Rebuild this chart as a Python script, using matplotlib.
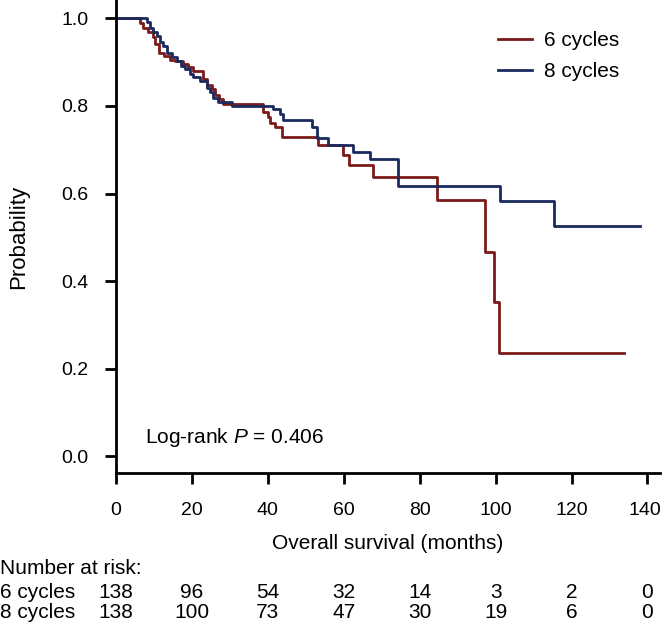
import matplotlib
matplotlib.use("Agg")
import matplotlib.pyplot as plt
import matplotlib.transforms as mtransforms

plt.rcParams['font.family'] = ['Liberation Sans', 'DejaVu Sans']
plt.rcParams['mathtext.fontset'] = 'custom'
plt.rcParams['mathtext.rm'] = 'Liberation Sans'
plt.rcParams['mathtext.it'] = 'Liberation Sans:italic'

# Kaplan-Meier steps (months, survival after the step)
red_t = [0, 6.3, 7.1, 8.4, 9.8, 10.3, 11.3, 12.7, 14.2, 15.6, 17.7, 19.0, 20.3,
         22.9, 24.0, 25.3, 26.1, 27.2, 28.2, 38.8, 40.0, 40.6, 41.9, 43.8, 53.3,
         59.8, 61.4, 67.8, 84.6, 97.3, 99.7, 101.0, 133.7]
red_s = [1.0, 0.989, 0.979, 0.968, 0.957, 0.941, 0.922, 0.913, 0.906, 0.902,
         0.895, 0.888, 0.879, 0.861, 0.849, 0.838, 0.826, 0.815, 0.805, 0.786,
         0.775, 0.762, 0.751, 0.730, 0.712, 0.689, 0.666, 0.637, 0.586, 0.467,
         0.353, 0.237, 0.237]

blue_t = [0, 8.2, 9.0, 9.8, 10.8, 11.6, 12.4, 13.4, 14.8, 16.1, 17.1, 18.2, 19.5,
          20.3, 22.1, 24.0, 24.8, 25.6, 26.9, 30.6, 41.4, 43.2, 44.0, 51.7, 53.0,
          55.9, 62.5, 67.0, 74.2, 101.2, 115.5, 137.9]
blue_s = [1.0, 0.991, 0.979, 0.970, 0.959, 0.947, 0.936, 0.922, 0.911, 0.902,
          0.891, 0.884, 0.873, 0.866, 0.856, 0.842, 0.831, 0.819, 0.810, 0.801,
          0.792, 0.781, 0.769, 0.753, 0.726, 0.712, 0.696, 0.680, 0.618, 0.584,
          0.527, 0.527]

risk_times = [0, 20, 40, 60, 80, 100, 120, 140]
risk_6 = [138, 96, 54, 32, 14, 3, 2, 0]
risk_8 = [138, 100, 73, 47, 30, 19, 6, 0]

RED = '#7a1a1a'
BLUE = '#1b2a5e'
FS = 14
FS2 = 15

fig = plt.figure(figsize=(6.62, 6.28), dpi=100)
ax = fig.add_axes([0.1752, 0.2468, 0.8218, 0.7532])

ax.step(red_t, red_s, where='post', color=RED, lw=2.0, label='6 cycles')
ax.step(blue_t, blue_s, where='post', color=BLUE, lw=2.0, label='8 cycles')

ax.set_xlim(0, 143.3)
ax.set_ylim(-0.038, 1.042)
ax.set_xticks(risk_times)
# last label is drawn by hand below so it can sit flush with the edge
ax.set_xticklabels([str(t) for t in risk_times[:-1]] + [''])
ax.set_yticks([0, 0.2, 0.4, 0.6, 0.8, 1.0])
ax.set_yticklabels(['0.0', '0.2', '0.4', '0.6', '0.8', '1.0'])

for s in ['top', 'right']:
    ax.spines[s].set_visible(False)
for s in ['left', 'bottom']:
    ax.spines[s].set_linewidth(2.0)
ax.tick_params(axis='both', direction='out', length=8, width=2.0, labelsize=FS)
ax.tick_params(axis='x', pad=13)
ax.tick_params(axis='y', pad=12)

trans, va, ha = ax.get_xaxis_text1_transform(8 + 13)
ax.annotate(str(risk_times[-1]), xy=(risk_times[-1], 0), xycoords=trans,
            xytext=(10, 0), textcoords='offset points',
            fontsize=FS, va=va, ha='right', annotation_clip=False)

ax.set_xlabel('Overall survival (months)', fontsize=FS2, labelpad=11)
ax.set_ylabel('Probability', fontsize=16, labelpad=23)

ax.text(7.6, 0.030, r'Log-rank $P$ = 0.406', fontsize=FS2, va='baseline')

ax.legend(loc='upper left', bbox_to_anchor=(0.752, 0.950), bbox_transform=fig.transFigure,
          frameon=False, fontsize=FS2, handlelength=1.65, handletextpad=0.55,
          labelspacing=0.55, borderpad=0, borderaxespad=0)

# number at risk table
tr = mtransforms.blended_transform_factory(ax.transData, fig.transFigure)
fig.text(0.0, 1 - 568 / 628, 'Number at risk:', fontsize=FS2, va='center')
for lab, vals, yp in [('6 cycles', risk_6, 592), ('8 cycles', risk_8, 613)]:
    fig.text(0.0, 1 - yp / 628, lab, fontsize=FS2, va='center')
    for t, v in zip(risk_times, vals):
        ax.text(t, 1 - yp / 628, str(v), transform=tr, fontsize=FS2,
                ha='center', va='center', clip_on=False)

fig.savefig('out.png', dpi=100)
